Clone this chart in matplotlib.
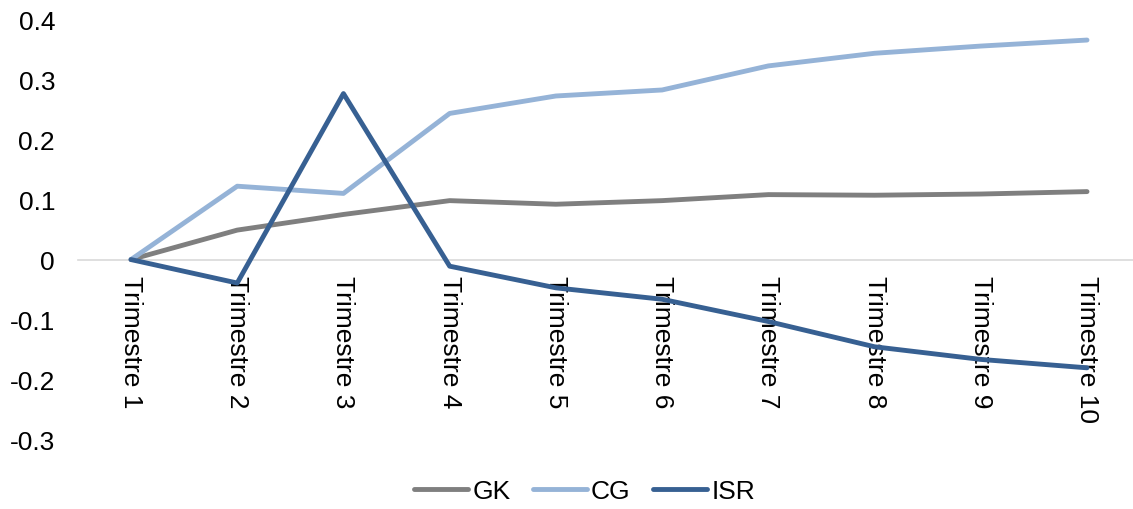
import matplotlib
matplotlib.use("Agg")
import matplotlib.pyplot as plt

plt.rcParams['font.family'] = ['Liberation Sans', 'DejaVu Sans']

categories = [f"Trimestre {i}" for i in range(1, 11)]
gk = [0.0, 0.049, 0.075, 0.098, 0.092, 0.098, 0.108, 0.107, 0.109, 0.113]
cg = [0.0, 0.122, 0.110, 0.243, 0.272, 0.282, 0.322, 0.343, 0.355, 0.365]
isr = [0.0, -0.039, 0.276, -0.011, -0.047, -0.066, -0.103, -0.145, -0.166, -0.180]
y_ticks = [0.4, 0.3, 0.2, 0.1, 0.0, -0.1, -0.2, -0.3]
y_tick_labels = ["0.4", "0.3", "0.2", "0.1", "0", "-0.1", "-0.2", "-0.3"]

W, H = 1133, 510
FS = 19
fig = plt.figure(figsize=(W / 100, H / 100), dpi=100)
ax = fig.add_axes([78 / W, (H - 441) / H, (W - 78) / W, 421 / H])

x = list(range(len(categories)))
series = [("GK", gk, "#7f7f7f"), ("CG", cg, "#95b3d7"), ("ISR", isr, "#376092")]
for name, vals, col in series:
    ax.plot(x, vals, color=col, lw=3.5, solid_capstyle='round',
            solid_joinstyle='round', label=name, zorder=3)

ax.set_xlim(-0.499, 9.433)
ax.set_ylim(-0.3, 0.4)

for s in ['top', 'right', 'left']:
    ax.spines[s].set_visible(False)
ax.spines['bottom'].set_position(('data', 0))
ax.spines['bottom'].set_color('#d9d9d9')
ax.spines['bottom'].set_linewidth(1.2)

ax.set_yticks(y_ticks)
ax.set_yticklabels(y_tick_labels, fontsize=FS)
ax.tick_params(axis='y', length=0, pad=16.5)

ax.set_xticks(x)
ax.set_xticklabels(categories, rotation=-90, fontsize=FS, va='top', ha='center')
ax.tick_params(axis='x', length=0, pad=11)

leg = fig.legend(loc='center', bbox_to_anchor=(0.516, (H - 492) / H), ncol=3, frameon=False,
                 fontsize=FS, handlelength=2.05, handletextpad=0.15, columnspacing=0.85)

fig.savefig("out.png", dpi=100, facecolor='white')
